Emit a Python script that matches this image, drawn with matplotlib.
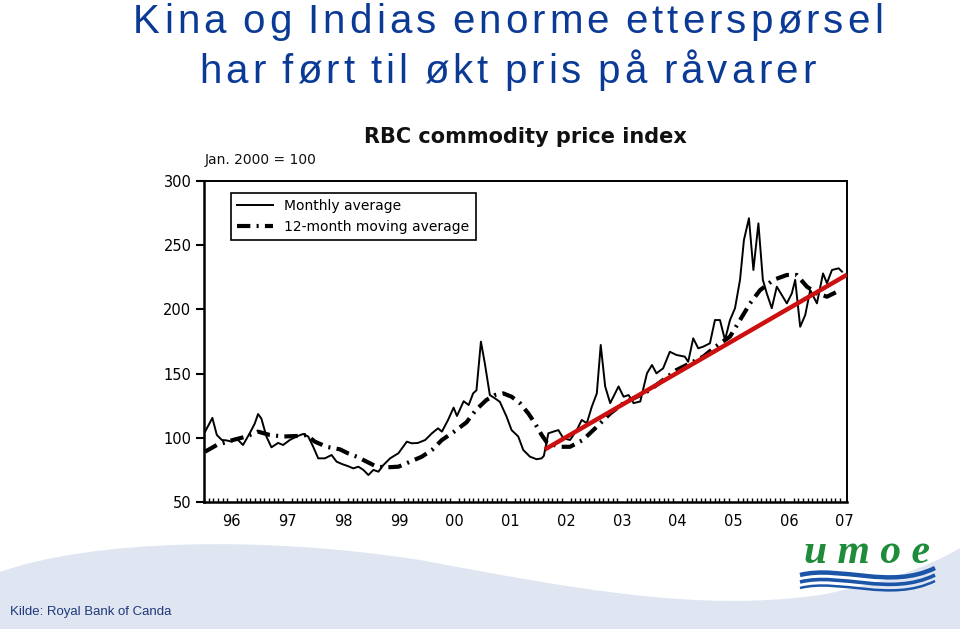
# -*- coding: utf-8 -*-
import numpy as np
import matplotlib
matplotlib.use('Agg')
import matplotlib.pyplot as plt
from matplotlib.patches import PathPatch
from matplotlib.path import Path

plt.rcParams['font.family'] = ['DejaVu Sans']

# Monthly average (Jan. 2000 = 100)
monthly_years = [1995.52, 1995.65, 1995.73, 1995.82, 1995.90, 1996.00, 1996.08, 1996.20,
                 1996.32, 1996.41, 1996.47, 1996.53, 1996.62, 1996.71, 1996.83, 1996.92,
                 1997.04, 1997.16, 1997.28, 1997.37, 1997.46, 1997.55, 1997.67, 1997.79,
                 1997.88, 1997.98, 1998.08, 1998.18, 1998.27, 1998.36, 1998.45, 1998.54,
                 1998.63, 1998.72, 1998.84, 1998.99, 1999.14, 1999.23, 1999.34, 1999.47,
                 1999.59, 1999.70, 1999.77, 1999.88, 1999.98, 2000.04, 2000.16, 2000.25,
                 2000.33, 2000.39, 2000.47, 2000.54, 2000.63, 2000.72, 2000.81, 2000.93,
                 2001.02, 2001.14, 2001.23, 2001.35, 2001.47, 2001.56, 2001.60, 2001.68,
                 2001.77, 2001.86, 2001.95, 2002.07, 2002.19, 2002.28, 2002.37, 2002.46,
                 2002.55, 2002.62, 2002.70, 2002.79, 2002.94, 2003.03, 2003.12, 2003.21,
                 2003.33, 2003.45, 2003.54, 2003.62, 2003.74, 2003.86, 2003.98, 2004.13,
                 2004.19, 2004.28, 2004.37, 2004.46, 2004.58, 2004.67, 2004.76, 2004.85,
                 2004.94, 2005.03, 2005.12, 2005.19, 2005.28, 2005.36, 2005.45, 2005.53,
                 2005.60, 2005.69, 2005.78, 2005.87, 2005.96, 2006.05, 2006.11, 2006.20,
                 2006.29, 2006.38, 2006.50, 2006.61, 2006.68, 2006.77, 2006.89, 2006.95]
monthly_vals = [104.8, 115.5, 102.2, 98.3, 98.0, 97.0, 99.6, 94.4,
                103.5, 111.0, 118.5, 115.0, 101.0, 92.6, 96.0, 94.4,
                98.3, 101.0, 103.0, 101.0, 93.0, 84.0, 84.0, 86.6,
                81.4, 79.5, 78.0, 76.2, 77.5, 75.0, 71.0, 75.0,
                73.6, 78.8, 84.0, 88.0, 97.0, 95.7, 96.0, 98.3,
                103.5, 107.4, 104.8, 113.9, 123.5, 117.0, 128.5, 125.5,
                134.6, 137.0, 174.9, 158.0, 133.3, 130.8, 128.0, 116.5,
                106.0, 101.0, 90.5, 85.3, 83.3, 84.0, 86.0, 103.5,
                104.8, 106.0, 99.6, 98.3, 106.0, 113.9, 111.3, 124.2,
                134.6, 172.3, 140.0, 127.0, 140.0, 132.0, 133.3, 127.0,
                128.3, 150.2, 156.7, 150.2, 154.1, 167.0, 164.5, 163.2,
                159.2, 177.5, 169.7, 171.0, 173.6, 191.7, 191.7, 176.2,
                191.7, 200.9, 223.0, 254.0, 271.0, 230.7, 267.0, 223.0,
                212.5, 200.9, 217.7, 211.2, 204.7, 212.5, 223.0, 186.5,
                195.6, 215.0, 204.7, 228.0, 220.4, 230.7, 232.0, 229.4]

# 12-month moving average
ma_years = [1995.52, 1995.73, 1996.02, 1996.26, 1996.47, 1996.68, 1996.92, 1997.22,
            1997.34, 1997.49, 1997.70, 1997.94, 1998.08, 1998.24, 1998.42, 1998.60,
            1998.78, 1998.99, 1999.20, 1999.41, 1999.59, 1999.77, 1999.98, 2000.21,
            2000.38, 2000.57, 2000.72, 2000.87, 2001.02, 2001.17, 2001.32, 2001.44,
            2001.56, 2001.66, 2001.89, 2002.07, 2002.30, 2002.55, 2002.79, 2003.03,
            2003.27, 2003.50, 2003.74, 2003.98, 2004.22, 2004.46, 2004.68, 2004.94,
            2005.12, 2005.30, 2005.48, 2005.72, 2005.96, 2006.14, 2006.32, 2006.50,
            2006.68, 2006.92]
ma_vals = [89.2, 94.4, 98.3, 101.0, 104.8, 102.2, 101.0, 101.5,
           102.2, 97.0, 93.0, 91.0, 88.0, 85.3, 81.4, 77.5,
           77.0, 77.5, 81.4, 85.3, 90.5, 98.3, 104.5, 112.0,
           121.7, 129.5, 133.3, 134.6, 132.0, 127.0, 119.0, 111.3,
           102.2, 96.0, 93.0, 93.0, 98.3, 108.6, 119.0, 127.0,
           132.0, 137.2, 145.0, 152.8, 158.0, 163.2, 171.0, 178.8,
           191.7, 204.7, 215.0, 223.0, 226.8, 226.8, 217.7, 212.5,
           209.9, 215.0]

# red trend line added on the slide
trend_years = [2001.62, 2007.04]
trend_vals = [91.0, 227.0]

year_ticks = [1996, 1997, 1998, 1999, 2000, 2001, 2002, 2003, 2004, 2005, 2006, 2007]
year_labels = ['96', '97', '98', '99', '00', '01', '02', '03', '04', '05', '06', '07']

title_lines = ['Kina og Indias enorme etterspørsel', 'har ført til økt pris på råvarer']

fig = plt.figure(figsize=(9.6, 6.29), dpi=100)
fig.patch.set_facecolor('white')

W, H = 960.0, 629.0
def fx(x): return x / W
def fy(y): return 1 - y / H

# bakgrunn: lysblå bølge nederst
wave = Path([(fx(0), fy(629)), (fx(0), fy(572)),
             (fx(90), fy(540)), (fx(260), fy(535)), (fx(420), fy(560)),
             (fx(580), fy(590)), (fx(700), fy(612)), (fx(820), fy(595)),
             (fx(900), fy(580)), (fx(940), fy(560)), (fx(960), fy(548)),
             (fx(960), fy(629)), (fx(0), fy(629))],
            [Path.MOVETO, Path.LINETO,
             Path.CURVE4, Path.CURVE4, Path.CURVE4,
             Path.CURVE4, Path.CURVE4, Path.CURVE4,
             Path.CURVE4, Path.CURVE4, Path.CURVE4,
             Path.LINETO, Path.CLOSEPOLY])
fig.patches.append(PathPatch(wave, transform=fig.transFigure, facecolor='#dfe5f1',
                             edgecolor='none', zorder=0))

# tittel med ekstra bokstavavstand (tegnes tegn for tegn)
renderer = fig.canvas.get_renderer()
title_kw = dict(color='#0b3a96', fontsize=29, ha='left', va='baseline',
                family=['Liberation Sans', 'DejaVu Sans'])
tracking = 4.1  # px
for line, cx, base in [(title_lines[0], 508, 33), (title_lines[1], 507, 83)]:
    widths = []
    for ch in line:
        t = fig.text(0, 0, ch if ch != ' ' else 'i', **title_kw)
        w = t.get_window_extent(renderer).width
        t.remove()
        if ch == ' ':
            w = 8.0
        widths.append(w)
    total = sum(widths) + tracking * (len(line) - 1)
    x = cx - total / 2.0
    for ch, w in zip(line, widths):
        if ch != ' ':
            fig.text(fx(x), fy(base), ch, **title_kw)
        x += w + tracking

ax = fig.add_axes([fx(204), fy(502), (847 - 204) / W, (502 - 181) / H])
ax.plot(monthly_years, monthly_vals, color='black', lw=1.4, label='Monthly average', zorder=3)
ax.plot(ma_years, ma_vals, color='black', lw=3.0, linestyle=(0, (3.2, 1.5, 0.5, 1.5)),
        label='12-month moving average', zorder=2)
ax.plot(trend_years, trend_vals, color='#cc1010', lw=3.2, solid_capstyle='butt', zorder=4)

ax.set_xlim(1995.5, 2007.04)
ax.set_ylim(50, 300)
ax.set_yticks([50, 100, 150, 200, 250, 300])
ax.tick_params(axis='y', direction='out', length=6, width=1.5, labelsize=10.5, pad=3)
ax.set_xticks(year_ticks)
ax.set_xticklabels(year_labels)
ax.tick_params(axis='x', which='major', length=0, labelsize=10.5, pad=9)
ax.set_xticks(np.arange(1995.5, 2007.04, 1 / 12.0), minor=True)
ax.tick_params(axis='x', which='minor', direction='in', length=3, width=1.0)
for side in ['left', 'bottom']:
    ax.spines[side].set_linewidth(1.8)
for side in ['top', 'right']:
    ax.spines[side].set_linewidth(1.4)

leg = ax.legend(loc='upper left', bbox_to_anchor=(0.042, 0.963), borderaxespad=0,
                fancybox=False, framealpha=1, edgecolor='black', fontsize=10,
                handlelength=2.6, borderpad=0.45, labelspacing=0.5)
leg.get_frame().set_linewidth(1.2)

fig.text(fx(525), fy(137), 'RBC commodity price index', fontsize=15, fontweight='bold',
         ha='center', va='center', color='#111111')
fig.text(fx(205), fy(160), 'Jan. 2000 = 100', fontsize=10, ha='left', va='center',
         color='#111111')

# kilde
fig.text(fx(10), fy(612), 'Kilde: Royal Bank of Canda', fontsize=9.5, color='#1f3a7a',
         ha='left', va='center', family=['Liberation Sans', 'DejaVu Sans'])

# umoe logo
fig.text(fx(867), fy(553), 'u m o e', fontsize=30, color='#1e8c3a', ha='center',
         va='center', style='italic', fontweight='bold',
         family=['Liberation Serif', 'DejaVu Serif'])
for dy, lw in [(0, 3.2), (7, 2.6), (13, 1.8)]:
    p = Path([(fx(800), fy(575 + dy)), (fx(840), fy(565 + dy)),
              (fx(890), fy(590 + dy)), (fx(935), fy(568 + dy))],
             [Path.MOVETO, Path.CURVE4, Path.CURVE4, Path.CURVE4])
    fig.patches.append(PathPatch(p, transform=fig.transFigure, facecolor='none',
                                 edgecolor='#1a55a8', lw=lw, zorder=2))

fig.savefig('out.png', dpi=100, facecolor='white')
